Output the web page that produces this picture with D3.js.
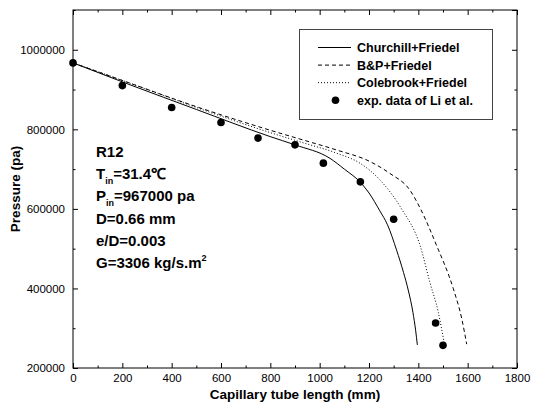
<!DOCTYPE html>
<html><head><meta charset="utf-8">
<script src="https://cdn.jsdelivr.net/npm/d3@7"></script>
<style>
body{margin:0;background:#fff;}
text{font-family:"Liberation Sans",Arial,sans-serif;}
</style></head>
<body><svg id="c" width="540" height="404"></svg>
<script>
// ---- data ----
const xTicks = [0,200,400,600,800,1000,1200,1400,1600,1800];
const yTicks = [200000,400000,600000,800000,1000000];
const churchill = [[0,967000],[231,912000],[500,850000],[798,782000],[900,761000],[1042,727000],[1100,700000],[1163,668000],[1200,640000],[1244,595000],[1275,560000],[1312,496000],[1340,440000],[1359,396000],[1378,340000],[1389,295000],[1396,258000]];
const bp = [[0,967000],[231,916000],[500,857000],[798,798000],[934,773000],[1069,748000],[1204,719000],[1285,689000],[1366,647000],[1408,601000],[1474,508000],[1542,399000],[1576,324000],[1596,260000]];
const colebrook = [[0,967000],[231,916000],[500,855000],[798,792000],[934,766000],[1069,740000],[1163,715000],[1244,673000],[1332,600000],[1407,508000],[1447,415000],[1481,340000],[1505,262000]];
const expX = [0,200,400,600,750,900,1015,1165,1300,1470,1500];
const expP = [967000,910000,855000,817000,778000,761000,715000,668000,574000,313000,257000];
const legendLabels = ["Churchill+Friedel","B&P+Friedel","Colebrook+Friedel","exp. data of Li et al."];

const svg = d3.select("#c");
const L=73,R=517,T=10,B=368;
const x = d3.scaleLinear().domain([0,1800]).range([L,R]);
const y = d3.scaleLinear().domain([200000,1100000]).range([B,T]);

const xMinor = d3.range(100,1800,200);
const yMinor = d3.range(300000,1100001,200000);

function styleAxis(g){ g.select(".domain").remove(); g.selectAll("line").attr("stroke","#000"); }

// bottom
svg.append("g").attr("transform",`translate(0,${B})`)
  .call(d3.axisBottom(x).tickValues(xTicks).tickSize(-5).tickPadding(6).tickFormat(d3.format("d")))
  .call(styleAxis).selectAll("text").attr("font-size",11.5).attr("fill","#000");
svg.append("g").attr("transform",`translate(0,${B})`)
  .call(d3.axisBottom(x).tickValues(xMinor).tickSize(-2.5).tickFormat("")).call(styleAxis);
// top
svg.append("g").attr("transform",`translate(0,${T})`)
  .call(d3.axisTop(x).tickValues(xTicks).tickSize(-5).tickFormat("")).call(styleAxis);
svg.append("g").attr("transform",`translate(0,${T})`)
  .call(d3.axisTop(x).tickValues(xMinor).tickSize(-2.5).tickFormat("")).call(styleAxis);
// left
svg.append("g").attr("transform",`translate(${L},0)`)
  .call(d3.axisLeft(y).tickValues(yTicks).tickSize(-5).tickPadding(8).tickFormat(d3.format("d")))
  .call(styleAxis).selectAll("text").attr("font-size",11.5).attr("fill","#000");
svg.append("g").attr("transform",`translate(${L},0)`)
  .call(d3.axisLeft(y).tickValues(yMinor).tickSize(-2.5).tickFormat("")).call(styleAxis);
// right
svg.append("g").attr("transform",`translate(${R},0)`)
  .call(d3.axisRight(y).tickValues(yTicks.concat([1100000])).tickSize(-5).tickFormat("")).call(styleAxis);
svg.append("g").attr("transform",`translate(${R},0)`)
  .call(d3.axisRight(y).tickValues(yMinor).tickSize(-2.5).tickFormat("")).call(styleAxis);

// frame
svg.append("rect").attr("x",L).attr("y",T).attr("width",R-L).attr("height",B-T)
  .attr("fill","none").attr("stroke","#000").attr("stroke-width",1);

// lines
const line = d3.line().x(d=>x(d[0])).y(d=>y(d[1])).curve(d3.curveMonotoneX);
const series = [
  {data:churchill, dash:null},
  {data:bp, dash:"4,3"},
  {data:colebrook, dash:"1,2"}
];
series.forEach(s=>{
  svg.append("path").attr("d",line(s.data)).attr("fill","none")
    .attr("stroke","#000").attr("stroke-width",1).attr("stroke-dasharray",s.dash);
});
// points
svg.selectAll("circle.pt").data(expX).enter().append("circle").attr("class","pt")
  .attr("cx",d=>x(d)).attr("cy",(d,i)=>y(expP[i])).attr("r",3.8).attr("fill","#000");

// legend
svg.append("rect").attr("x",299.5).attr("y",29.5).attr("width",193).attr("height",90)
  .attr("fill","#fff").attr("stroke","#444").attr("stroke-width",1);
legendLabels.forEach((lab,i)=>{
  const yy = 47.5 + i*17.6;
  if(i<3){
    svg.append("line").attr("x1",318).attr("x2",351).attr("y1",yy).attr("y2",yy)
      .attr("stroke","#000").attr("stroke-width",1).attr("stroke-dasharray",series[i].dash);
  } else {
    svg.append("circle").attr("cx",335.5).attr("cy",yy).attr("r",3.8).attr("fill","#000");
  }
  svg.append("text").attr("x",357).attr("y",yy+4.5).attr("font-size",12.5)
    .attr("font-weight","bold").attr("fill","#000").text(lab);
});

// annotation
const ax = 96;
const ann = svg.append("g").attr("font-size",15).attr("font-weight","bold").attr("fill","#000");
ann.append("text").attr("x",ax).attr("y",157).text("R12");
const t1 = ann.append("text").attr("x",ax).attr("y",179);
t1.append("tspan").text("T");
t1.append("tspan").attr("font-size",9).attr("dy",5).text("in");
t1.append("tspan").attr("dy",-5).text("=31.4\u2103");
const t2 = ann.append("text").attr("x",ax).attr("y",201);
t2.append("tspan").text("P");
t2.append("tspan").attr("font-size",9).attr("dy",5).text("in");
t2.append("tspan").attr("dy",-5).text("=967000 pa");
ann.append("text").attr("x",ax).attr("y",224).text("D=0.66 mm");
ann.append("text").attr("x",ax).attr("y",246).text("e/D=0.003");
const t3 = ann.append("text").attr("x",ax).attr("y",268);
t3.append("tspan").text("G=3306 kg/s.m");
t3.append("tspan").attr("font-size",9).attr("dy",-7).text("2");

// axis titles
svg.append("text").attr("transform",`translate(20,${(T+B)/2}) rotate(-90)`)
  .attr("text-anchor","middle").attr("font-size",13.5).attr("font-weight","bold").text("Pressure (pa)");
svg.append("text").attr("x",(L+R)/2).attr("y",399).attr("text-anchor","middle")
  .attr("font-size",13.5).attr("font-weight","bold").text("Capillary tube length (mm)");
</script></body></html>
